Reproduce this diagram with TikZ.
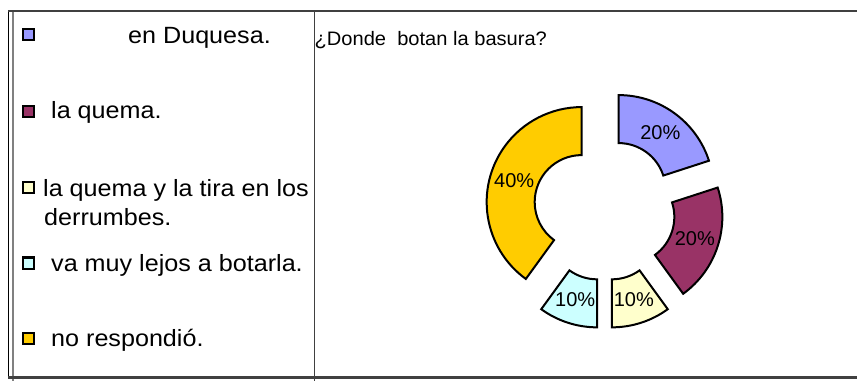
\documentclass[tikz,border=0pt]{standalone}
\usepackage{fontspec}
\setmainfont{Liberation Sans}
\newfontfamily\legfont[FakeStretch=1.07]{Liberation Sans}
\newfontfamily\titfont[FakeStretch=1.03]{Liberation Sans}
\definecolor{cblue}{HTML}{9999FF}
\definecolor{cpurple}{HTML}{993366}
\definecolor{ccream}{HTML}{FFFFCC}
\definecolor{ccyan}{HTML}{CCFFFF}
\definecolor{cyellow}{HTML}{FFCC00}
\definecolor{rulegray}{HTML}{404040}
\newcommand\donutseg[5]{%
  \begin{scope}[shift={(604.5,209.5)}, shift={({-(#3+#4)/2}:24)}]
    \draw[segstyle, fill=#2] ({-#3}:95) arc[start angle={-#3}, end angle={-#4}, radius=95]
      -- ({-#4}:47) arc[start angle={-#4}, end angle={-#3}, radius=47] -- cycle;
    \node[pct] (#1) at ({-(#3+#4)/2}:71) {#5};
  \end{scope}}
\tikzset{
  segstyle/.style={draw=black, line width=2pt, line join=miter},
  pct/.style={inner sep=0, font=\fontsize{20}{24}\selectfont},
  legbox/.style={draw=black, line width=2.3pt, minimum width=11.5pt, minimum height=11.5pt, inner sep=0, outer sep=0},
  legtext/.style={anchor=base west, inner sep=0, font=\legfont\fontsize{23.5}{28}\selectfont},
}
\begin{document}
\begin{tikzpicture}[x=1pt, y=-1pt]
\useasboundingbox (0,0) rectangle (857,381);
% table rules
\draw[black, line width=0.9pt] (8,11) -- (8,377.5);
\draw[gray, line width=1.2pt] (13,11) -- (13,381);
\draw[rulegray, line width=1.5pt] (8,11) -- (857,11);
\draw[rulegray, line width=1.3pt] (314.5,11) -- (314.5,381);
\draw[rulegray, line width=2.2pt] (8,377.5) -- (857,377.5);
% legend
\node[legbox, fill=cblue] (k1) at (28.5,34.5) {};
\node[legbox, fill=cpurple] (k2) at (28.5,111.5) {};
\node[legbox, fill=ccream] (k3) at (28.5,187.5) {};
\node[legbox, fill=ccyan] (k4) at (28.5,263.3) {};
\node[legbox, fill=cyellow] (k5) at (28.5,338.5) {};
\node[legtext] (t1) at (128,43.8) {en Duquesa.};
\node[legtext] (t2) at (51,118.8) {la quema.};
\node[legtext] (t3) at (43,196) {la quema y la tira en los};
\node[legtext] (t3b) at (44,225) {derrumbes.};
\node[legtext] (t4) at (51,271.3) {va muy lejos a botarla.};
\node[legtext] (t5) at (51,346) {no respondió.};
% title
\node[anchor=base west, inner sep=0, font=\titfont\fontsize{19.5}{23}\selectfont] (title) at (314.5,45) {¿Donde\ \ botan la basura?};
% donut
\donutseg{p1}{cblue}{90}{18}{20\%}
\donutseg{p2}{cpurple}{18}{-54}{20\%}
\donutseg{p3}{ccream}{-54}{-90}{10\%}
\donutseg{p4}{ccyan}{-90}{-126}{10\%}
\donutseg{p5}{cyellow}{-126}{-270}{40\%}
\end{tikzpicture}
\end{document}
